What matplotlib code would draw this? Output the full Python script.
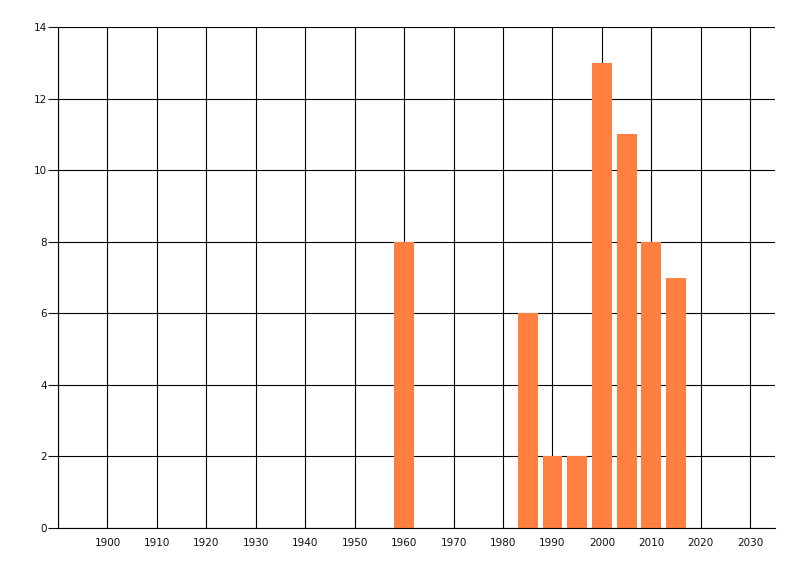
import numpy as np
import matplotlib
matplotlib.use("Agg")
import matplotlib.pyplot as plt

years = [1960, 1985, 1990, 1995, 2000, 2005, 2010, 2015]
counts = [8, 6, 2, 2, 13, 11, 8, 7]
xticks = list(range(1900, 2031, 10))
yticks = list(range(0, 15, 2))

fig = plt.figure(figsize=(8, 5.76), dpi=100)
ax = fig.add_axes([58 / 800, 48 / 576, 717 / 800, 501 / 576])

ax.bar(years, counts, width=4, color="#FF7F40", zorder=3)

ax.set_xlim(1890, 2035)
ax.set_ylim(0, 14)
ax.set_yticks(yticks)
ax.set_xticks([1890] + xticks)
ax.set_xticklabels([""] + [str(x) for x in xticks])
ax.grid(True, color="black", lw=0.8, zorder=0)
ax.set_axisbelow(True)

for s in ["top", "right"]:
    ax.spines[s].set_visible(False)
for s in ["left", "bottom"]:
    ax.spines[s].set_linewidth(0.8)
    ax.spines[s].set_zorder(4)

ax.tick_params(axis="x", length=0, pad=7, labelsize=7.5, colors="#111111")
ax.tick_params(axis="y", length=7, width=0.8, pad=1, labelsize=7.5, colors="#111111")

fig.savefig("out.png", dpi=100)
